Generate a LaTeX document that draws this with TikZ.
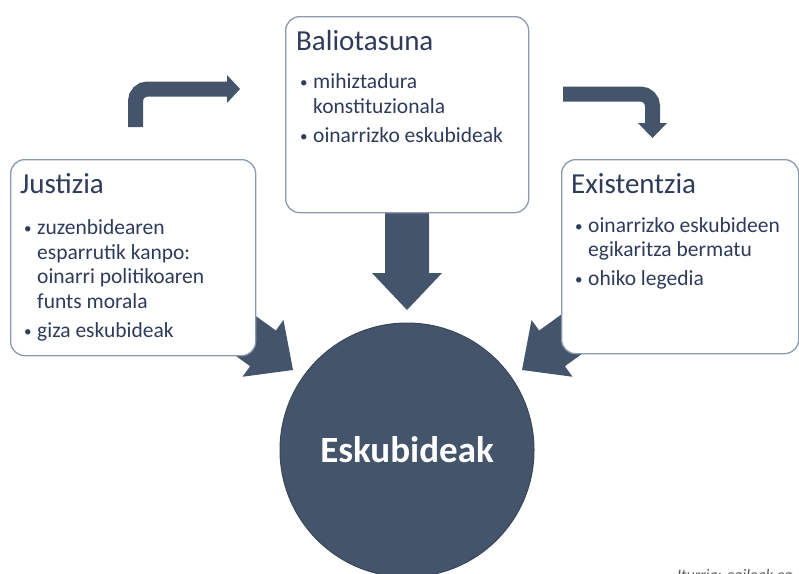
\documentclass[tikz,border=0pt]{standalone}
\usepackage{fontspec}
\usepackage{graphicx}
\setmainfont{Carlito}
\usetikzlibrary{positioning}
\definecolor{slate}{HTML}{44546A}
\definecolor{navytext}{HTML}{2E3B5B}
\definecolor{panelline}{HTML}{8C9AAE}
\definecolor{notegray}{HTML}{595959}
\newcommand{\itm}[1]{\makebox[13pt][l]{\raisebox{0.6pt}{\scalebox{0.7}{\textbullet}}}#1}
\newcommand{\cnt}[1]{\hspace*{13pt}#1}
\newcommand{\blockarrow}[3]{\fill[arrow_fill, shift={(#1)}, rotate=#2] (0,0) -- (-37,35) -- (-37,22) -- (-#3,22) -- (-#3,-22) -- (-37,-22) -- (-37,-35) -- cycle;}
\tikzset{
        % Panel boxes
        panel_box/.style={draw=panelline, line width=1.3pt, fill=white, rounded corners=14pt, inner sep=0pt, anchor=north west},
        % Panel headings
        panel_title/.style={anchor=base west, inner sep=0pt, navytext, font=\fontsize{29}{34}\selectfont},
        % Bullet lists (placed by the baseline of their last line)
        panel_items/.style={anchor=base west, inner sep=0pt, navytext, align=left, font=\fontsize{21.5}{24.5}\selectfont},
        % Arrows
        arrow_fill/.style={fill=slate},
        arrow_bent/.style={draw=slate, line width=15pt, rounded corners=12pt},
        % Centre disc
        node_centre/.style={circle, fill=slate, draw=slate!85!black, line width=1pt, minimum size=254pt, inner sep=0pt, text=white, font=\bfseries\fontsize{37}{44}\selectfont},
        % Source note
        note_text/.style={anchor=base west, inner sep=0pt, notegray, font=\itshape\fontsize{16}{19}\selectfont}
}
\begin{document}
\begin{tikzpicture}[x=1pt, y=-1pt]
            \useasboundingbox (0,0) rectangle (799,573);
            \coordinate (tip_down) at (407,310);
            \coordinate (tip_left) at (293,370);
            \coordinate (tip_right) at (522,370);
            \coordinate (bend_l_start) at (135.5,127);
            \coordinate (bend_l_end) at (228,89);
            \coordinate (bend_r_start) at (563,94);
            \coordinate (bend_r_end) at (652.5,124);
            % big arrows into the disc
            \blockarrow{tip_down}{-90}{110}
            \blockarrow{tip_left}{-35.8}{90}
            \blockarrow{tip_right}{-144.2}{90}
            % bent arrows between panels
            \draw[arrow_bent] (bend_l_start) |- (bend_l_end);
            \fill[arrow_fill] (227,75) -- (240,89) -- (227,103) -- cycle;
            \draw[arrow_bent] (bend_r_start) -| (bend_r_end);
            \fill[arrow_fill] (638,123) -- (652.5,138) -- (667,123) -- cycle;
            % panels
            \node[panel_box, minimum width=245pt, minimum height=196pt] (justice_box) at (10,159) {};
            \node[panel_box, minimum width=243pt, minimum height=196pt] (validity_box) at (285,16) {};
            \node[panel_box, minimum width=237pt, minimum height=194pt] (existence_box) at (561,159) {};
            \node[panel_title] (justice_title) at (20,193) {Justizia};
            \node[panel_items] (justice_items) at (24,337) {\itm{zuzenbidearen}\\ \cnt{esparrutik kanpo:}\\ \cnt{oinarri politikoaren}\\ \cnt{funts morala}\\[4.5pt] \itm{giza eskubideak}};
            \node[panel_title] (validity_title) at (296,50) {Baliotasuna};
            \node[panel_items] (validity_items) at (300,142) {\itm{mihiztadura}\\ \cnt{konstituzionala}\\[4.5pt] \itm{oinarrizko eskubideak}};
            \node[panel_title] (existence_title) at (571,193) {Existentzia};
            \node[panel_items] (existence_items) at (575,285) {\itm{oinarrizko eskubideen}\\ \cnt{egikaritza bermatu}\\[4pt] \itm{ohiko legedia}};
            % centre
            \node[node_centre] (rights) at (407,450) {Eskubideak};
            \node[note_text] (source) at (677,580) {Iturria: egileak eg};
\end{tikzpicture}
\end{document}
